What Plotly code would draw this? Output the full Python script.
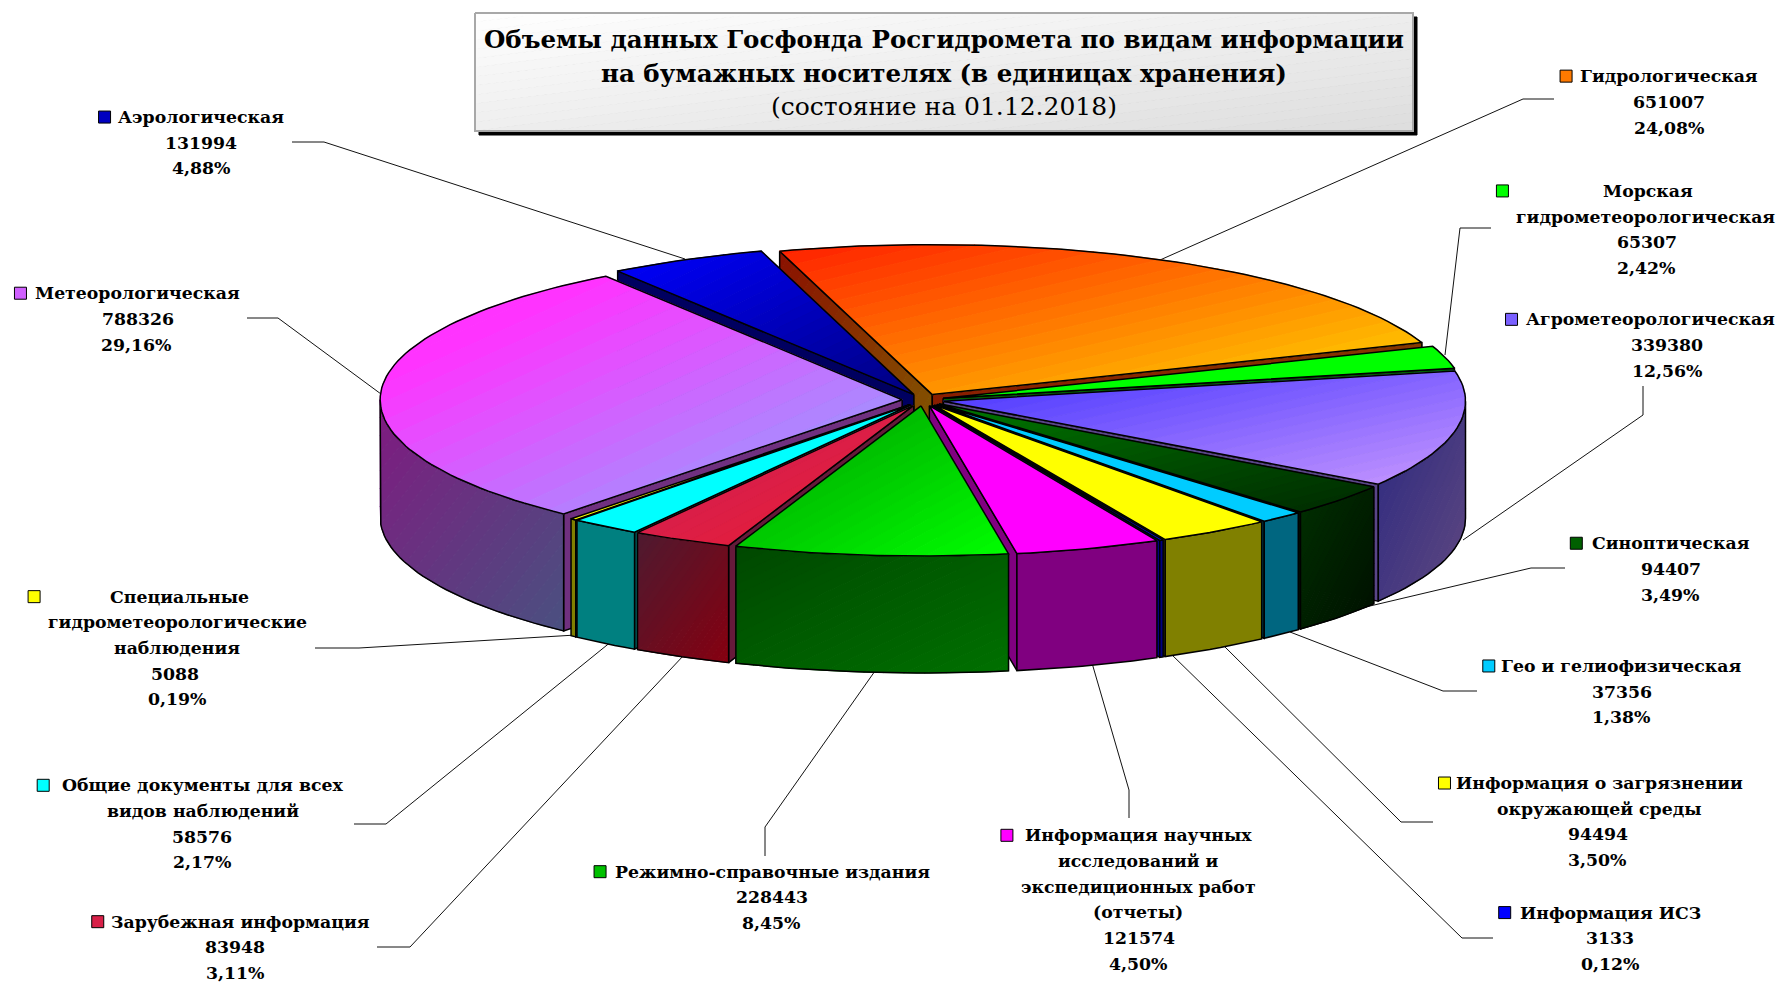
import math
import plotly.graph_objects as go

# ---------- data ----------
title_lines = ["Объемы данных Госфонда Росгидромета по видам информации",
               "на бумажных носителях (в единицах хранения)",
               "(состояние на 01.12.2018)"]
names = ["Гидрологическая", "Морская гидрометеорологическая", "Агрометеорологическая", "Синоптическая",
         "Гео и гелиофизическая", "Информация о загрязнении окружающей среды", "Информация ИСЗ",
         "Информация научных исследований и экспедиционных работ (отчеты)", "Режимно-справочные издания",
         "Зарубежная информация", "Общие документы для всех видов наблюдений",
         "Специальные гидрометеорологические наблюдения", "Метеорологическая", "Аэрологическая"]
values = [651007, 65307, 339380, 94407, 37356, 94494, 3133, 121574, 228443, 83948, 58576, 5088, 788326, 131994]
name_lines = [["Гидрологическая"], ["Морская", "гидрометеорологическая"], ["Агрометеорологическая"], ["Синоптическая"],
              ["Гео и гелиофизическая"], ["Информация о загрязнении", "окружающей среды"], ["Информация ИСЗ"],
              ["Информация научных", "исследований и", "экспедиционных работ", "(отчеты)"],
              ["Режимно-справочные издания"], ["Зарубежная информация"],
              ["Общие документы для всех", "видов наблюдений"],
              ["Специальные", "гидрометеорологические", "наблюдения"], ["Метеорологическая"], ["Аэрологическая"]]

# ---------- styles ----------
top_c = [("#FF1E00", "#FFE000"), ("#00FF00", "#00FF00"), ("#4030FF", "#C898FF"), ("#007800", "#002800"),
         ("#00CCFF", "#00CCFF"), ("#FFFF00", "#FFFF00"), ("#0000FF", "#0000FF"), ("#FF00FF", "#FF00FF"),
         ("#009800", "#00FF00"), ("#C8205F", "#EE1C2E"), ("#00FFFF", "#00FFFF"), ("#FFFF00", "#FFFF00"),
         ("#FF33FF", "#83B2FF"), ("#0000FF", "#000080")]
top_offset = [0, 0, 0, 0, 0, 0, 0, 0, 0, 0, 0, 0, 0.22, 0]
side_c = [("#803000", "#803000"), ("#008000", "#008000"), ("#2A2880", "#604880"), ("#003000", "#000F00"),
          ("#006680", "#006680"), ("#808000", "#808000"), ("#000080", "#000080"), ("#800080", "#800080"),
          ("#004800", "#007000"), ("#4E1A30", "#850010"), ("#008080", "#008080"), ("#808000", "#808000"),
          ("#7F1A80", "#4A5080"), ("#000080", "#000080")]
wall_c = [("#8B1000", "#806000"), ("#006000", "#006000"), ("#5A4588", "#5A4588"), ("#001800", "#001800"),
          ("#004050", "#004050"), ("#606000", "#606000"), ("#000080", "#000080"), ("#800080", "#800080"),
          ("#006000", "#006000"), ("#661A3A", "#661A3A"), ("#006060", "#006060"), ("#606000", "#606000"),
          ("#70307F", "#70307F"), ("#000060", "#000060")]
key_c = ["#FF7A00", "#00FF00", "#7A60FF", "#006000", "#00CCFF", "#FFFF00", "#0000FF", "#FF00FF", "#00C000",
         "#D82048", "#00FFFF", "#FFFF00", "#D060FF", "#0000C0"]
draw_order = [0, 13, 12, 1, 2, 3, 4, 5, 6, 7, 11, 10, 9, 8]

# ---------- geometry ----------
W, H = 1782, 982
CX, CY, RX, RY, DEPTH, EXPLODE = 923, 400, 522, 150, 117, 0.04
START_ANGLE = -17.0
BANDS = 26
S = 1782 / 1568  # label positions were measured on the 1568 px view
FONT = "DejaVu Serif"
LABEL_SIZE = 17.3
PITCH = 25.7

# per label: key centre x, key y, x-centre for every text line, first line y (measured in 1568 view)
label_pos = [
    (1378, 67, [1469, 1469, 1469], 67),
    (1322, 168, [1450, 1448, 1449, 1449], 168),
    (1330, 281, [1452, 1467, 1467], 281),
    (1387, 478, [1470, 1470, 1470], 478),
    (1310, 586, [1427, 1427, 1427], 586),
    (1271, 689, [1407, 1407, 1406, 1406], 689),
    (1324, 803, [1417, 1417, 1417], 803),
    (886, 735, [1002, 1002, 1002, 1001, 1002, 1002], 735),
    (528, 767, [680, 679, 679], 767),
    (86, 811, [212, 207, 207], 811),
    (38, 691, [178, 179, 178, 178], 691),
    (30, 525, [158, 156, 156, 154, 156], 525),
    (18, 258, [121, 121, 120], 258),
    (92, 103, [177, 177, 177], 103),
]
leaders = [
    [(1554, 99), (1523, 99), (1160, 260)],
    [(1491, 228), (1460, 228), (1445, 355)],
    [(1643, 386), (1643, 415), (1463, 540)],
    [(1565, 568), (1531, 568), (1353, 610)],
    [(1477, 691), (1443, 691), (1290, 632)],
    [(1433, 822), (1401, 822), (1222, 644)],
    [(1493, 938), (1462, 938), (1170, 653)],
    [(1129, 818), (1129, 790), (1092, 663)],
    [(765, 856), (765, 827), (875, 671)],
    [(377, 947), (410, 947), (684, 655)],
    [(354, 824), (386, 824), (612, 641)],
    [(315, 648), (359, 648), (576, 635)],
    [(247, 318), (278, 318), (381, 394)],
    [(292, 142), (324, 142), (685, 259)],
]


# ---------- helpers ----------
def hex_rgb(c):
    return tuple(int(c[i:i + 2], 16) for i in (1, 3, 5))


def mix(c0, c1, t):
    a, b = hex_rgb(c0), hex_rgb(c1)
    return "rgb(%d,%d,%d)" % tuple(round(a[i] + (b[i] - a[i]) * t) for i in range(3))


def clip(poly, f, keep_ge, lim):
    """Clip polygon to f(p) >= lim or f(p) <= lim."""
    out = []
    n = len(poly)
    for i in range(n):
        p, q = poly[i], poly[(i + 1) % n]
        fp, fq = f(p), f(q)
        inp = fp >= lim if keep_ge else fp <= lim
        inq = fq >= lim if keep_ge else fq <= lim
        if inp:
            out.append(p)
        if inp != inq:
            r = (lim - fp) / (fq - fp)
            out.append((p[0] + (q[0] - p[0]) * r, p[1] + (q[1] - p[1]) * r))
    return out


fig = go.Figure()


def add_poly(poly, color, line_color=None, line_w=1.0):
    xs = [p[0] for p in poly] + [poly[0][0]]
    ys = [p[1] for p in poly] + [poly[0][1]]
    fig.add_trace(go.Scatter(x=xs, y=ys, mode="lines", fill="toself", fillcolor=color,
                             line=dict(color=line_color or color, width=line_w),
                             hoverinfo="skip", showlegend=False))


def gradient_face(poly, c0, c1, outline="#000000", outline_w=1.5, offset=0.0):
    """Fill a polygon with a corner-to-corner gradient across its bounding box."""
    if c0 == c1:
        add_poly(poly, c0, outline, outline_w)
        return
    x0, x1 = min(p[0] for p in poly), max(p[0] for p in poly)
    y0, y1 = min(p[1] for p in poly), max(p[1] for p in poly)
    w, h = max(x1 - x0, 1), max(y1 - y0, 1)
    f = lambda p: ((p[0] - x0) / w + (p[1] - y0) / h) / 2
    for k in range(BANDS):
        a, b = k / BANDS, (k + 1) / BANDS
        part = clip(clip(poly, f, True, a), f, False, b)
        if len(part) >= 3:
            t = max(0.0, ((a + b) / 2 - offset) / (1 - offset))
            add_poly(part, mix(c0, c1, t))
    xs = [p[0] for p in poly] + [poly[0][0]]
    ys = [p[1] for p in poly] + [poly[0][1]]
    if outline:
        fig.add_trace(go.Scatter(x=xs, y=ys, mode="lines", line=dict(color=outline, width=outline_w),
                                 hoverinfo="skip", showlegend=False))


# ---------- slices ----------
total = sum(values)
edges = [START_ANGLE]
for v in values:
    edges.append(edges[-1] + v / total * 360)


def pt(theta, ox, oy, dz=0):
    r = math.radians(theta)
    return (ox + RX * math.sin(r), oy - RY * math.cos(r) + dz)


def arc(a, b, ox, oy, dz=0):
    n = max(2, int(abs(b - a) / 1.5) + 2)
    return [pt(a + (b - a) * i / (n - 1), ox, oy, dz) for i in range(n)]


# title box (shadow, gradient panel)
add_poly([(479, 17), (1417, 17), (1417, 135), (479, 135)], "#000000")
gradient_face([(475, 13), (1413, 13), (1413, 131), (475, 131)], "#FFFFFF", "#DDDDDD", "#A8A8A8", 2)

# leader lines
for path in leaders:
    fig.add_trace(go.Scatter(x=[p[0] for p in path], y=[p[1] for p in path], mode="lines",
                             line=dict(color="#111111", width=1), hoverinfo="skip", showlegend=False))

for i in draw_order:
    a, b = edges[i], edges[i + 1]
    mid = math.radians((a + b) / 2)
    ox = CX + EXPLODE * RX * math.sin(mid)
    oy = CY - EXPLODE * RY * math.cos(mid)
    apex, apex_low = (ox, oy), (ox, oy + DEPTH)
    if math.sin(math.radians(a)) < 0:  # start wall faces the viewer
        p = pt(a, ox, oy)
        gradient_face([apex, p, (p[0], p[1] + DEPTH), apex_low], *wall_c[i])
    if math.sin(math.radians(b)) > 0:  # end wall faces the viewer
        p = pt(b, ox, oy)
        gradient_face([apex, p, (p[0], p[1] + DEPTH), apex_low], *wall_c[i])
    lo, hi = max(a, 90), min(b, 270)
    if lo < hi:  # outer rim, front half only
        rim = arc(lo, hi, ox, oy) + arc(hi, lo, ox, oy, DEPTH)
        gradient_face(rim, *side_c[i])
    gradient_face([apex] + arc(a, b, ox, oy), *top_c[i], offset=top_offset[i])

# ---------- legend keys & labels ----------
annotations = []


def text(x, y, s, size, bold):
    annotations.append(dict(x=x, y=y, xref="x", yref="y", text=s, showarrow=False, xanchor="center",
                            yanchor="middle", font=dict(family=FONT, size=size, color="#000000",
                                                        weight="bold" if bold else "normal")))


for i, pos in enumerate(label_pos):
    key_x, key_y, centers, y0 = pos
    lines = name_lines[i] + [str(values[i]), ("%.2f%%" % (values[i] / total * 100)).replace(".", ",")]
    for k, line in enumerate(lines):
        text(centers[k] * S, y0 * S + k * PITCH, line, LABEL_SIZE, True)
    fig.add_trace(go.Scatter(x=[key_x * S], y=[key_y * S], mode="markers",
                             marker=dict(symbol="square", size=12, color=key_c[i],
                                         line=dict(color="#000000", width=1)),
                             hoverinfo="skip", showlegend=False))

text(944, 39, title_lines[0], 24.5, True)
text(944, 73, title_lines[1], 24.5, True)
text(944, 106, title_lines[2], 25, False)

fig.update_layout(
    width=W, height=H, margin=dict(l=0, r=0, t=0, b=0), paper_bgcolor="#FFFFFF", plot_bgcolor="#FFFFFF",
    showlegend=False, annotations=annotations,
    xaxis=dict(range=[0, W], visible=False, fixedrange=True),
    yaxis=dict(range=[H, 0], visible=False, fixedrange=True),
)
fig.write_html("out.html", config={"displayModeBar": False},
               post_script="document.body.style.margin='0';document.body.style.overflow='hidden';")
